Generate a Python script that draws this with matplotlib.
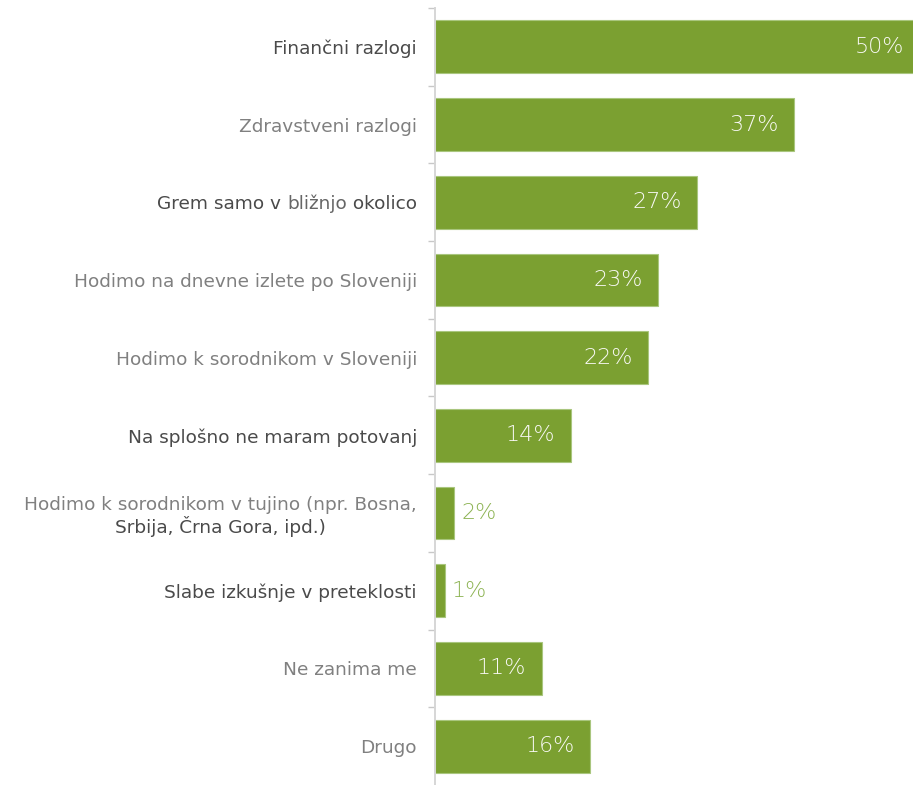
import matplotlib
matplotlib.use("Agg")
import matplotlib.pyplot as plt

# Each label is a list of lines, each line a list of (text, style) pieces
labels = [
    [[("Finančni razlogi", "dark")]],
    [[("Zdravstveni razlogi", "light")]],
    [[("Grem samo v ", "dark"), ("bližnjo", "mid"), (" okolico", "dark")]],
    [[("Hodimo na dnevne izlete po Sloveniji", "light")]],
    [[("Hodimo k sorodnikom v Sloveniji", "light")]],
    [[("Na splošno ne maram potovanj", "dark")]],
    [[("Hodimo k sorodnikom v tujino (npr. Bosna,", "light")],
     [("Srbija, Črna Gora, ipd.)", "dark")]],
    [[("Slabe izkušnje v preteklosti", "dark")]],
    [[("Ne zanima me", "light")]],
    [[("Drugo", "light")]],
]
values = [50, 37, 27, 23, 22, 14, 2, 1, 11, 16]
value_labels = ["50%", "37%", "27%", "23%", "22%", "14%", "2%", "1%", "11%", "16%"]

BAR = "#7ba031"
EDGE = "#a9c67e"
COLORS = {"dark": "#4a4a4a", "mid": "#666666", "light": "#808080"}
LABEL_FONT = dict(family="DejaVu Sans", fontsize=13.3)
VALUE_FONT = dict(family="DejaVu Sans", fontsize=16, fontweight="light")


def draw_line(ax, pieces, anchor, xy, ha, va, offset=None):
    """Draws a line of differently coloured pieces, chained right to left."""
    first = None
    prev = None
    for txt, style in reversed(pieces):
        if prev is None:
            kw = dict(xy=xy, xycoords=anchor, ha=ha, va=va)
            if offset is not None:
                kw.update(xytext=offset, textcoords="offset points")
        else:
            kw = dict(xy=(0, 0), xycoords=prev, ha="right", va="bottom")
        prev = ax.annotate(txt, color=COLORS[style], annotation_clip=False,
                           **LABEL_FONT, **kw)
        if first is None:
            first = prev
    return first


fig = plt.figure(figsize=(9.13, 7.85), dpi=100)
ax = fig.add_axes([435 / 913, 0, 478 / 913, 777 / 785])

y = list(range(len(values)))
ax.barh(y, values, height=0.68, color=BAR, edgecolor=EDGE, linewidth=0.8)
ax.set_xlim(0, 49.3)
ax.set_ylim(len(values) - 0.5, -0.5)

for s in ["top", "right", "bottom"]:
    ax.spines[s].set_visible(False)
ax.spines["left"].set_color("#d6d6d6")
ax.spines["left"].set_linewidth(1.4)
ax.set_xticks([])
ax.set_yticks([i - 0.5 for i in range(len(values))])
ax.set_yticklabels([])
ax.tick_params(axis="y", length=5, width=1, color="#c8c8c8")

trans = ax.get_yaxis_transform()
for i, lines in enumerate(labels):
    if len(lines) == 1:
        draw_line(ax, lines[0], trans, (0, i), "right", "center_baseline",
                  offset=(-13, 0))
    else:
        top = draw_line(ax, lines[0], trans, (0, i), "right", "bottom",
                        offset=(-13, -1))
        ax.annotate(lines[1][0][0], xy=(0.5, 0), xycoords=top,
                    xytext=(0, -1), textcoords="offset points",
                    ha="center", va="top", color=COLORS[lines[1][0][1]],
                    annotation_clip=False, **LABEL_FONT)

for i, (v, lab) in enumerate(zip(values, value_labels)):
    if v >= 5:
        ax.annotate(lab, xy=(v, i), xytext=(-11, 0), textcoords="offset points",
                    ha="right", va="center", color="#f9f9f6",
                    annotation_clip=False, **VALUE_FONT)
    else:
        ax.annotate(lab, xy=(v, i), xytext=(5, 0), textcoords="offset points",
                    ha="left", va="center", color="#8db353",
                    annotation_clip=False, **VALUE_FONT)

fig.savefig("out.png", dpi=100)
